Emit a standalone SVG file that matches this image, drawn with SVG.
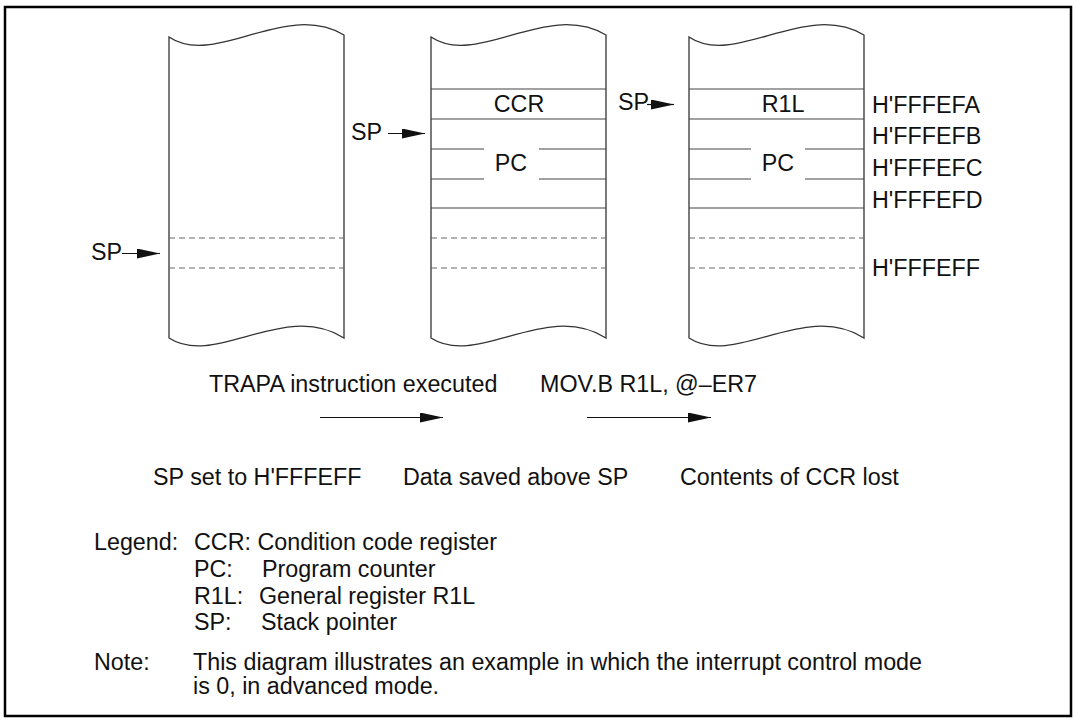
<svg xmlns="http://www.w3.org/2000/svg" width="1076" height="720" viewBox="0 0 1076 720">
<style>
.t{font-family:"Liberation Sans",Arial,Helvetica,sans-serif;font-size:23.3px;fill:#111}
.m{text-anchor:middle}
.col{fill:#fff;stroke:#333;stroke-width:1.3}
.row{stroke:#444;stroke-width:1.2;fill:none}
.dash{stroke:#666;stroke-width:1.2;stroke-dasharray:6 4;fill:none}
.arr{stroke:#111;stroke-width:1.2;fill:none;marker-end:url(#ah)}
</style>
<defs>
<marker id="ah" markerUnits="userSpaceOnUse" markerWidth="23" markerHeight="10" refX="23" refY="5" orient="auto">
<path d="M0,0 L23,5 L0,10 Z" fill="#111"/>
</marker>
<path id="colshape" d="M169,37 C215,68 285,0 344,35 L344,338 C285,300 215,368 169,338 Z"/>
</defs>
<rect width="1076" height="720" fill="#fff"/>
<rect x="5" y="7" width="1066" height="709" fill="none" stroke="#000" stroke-width="2.5"/>

<g id="stack1">
<use href="#colshape" class="col"/>
<line class="dash" x1="169" y1="238" x2="344" y2="238"/>
<line class="dash" x1="169" y1="268" x2="344" y2="268"/>
</g>

<g id="stack2">
<use href="#colshape" class="col" transform="translate(262,0)"/>
<line class="row" x1="431" y1="89" x2="606" y2="89"/>
<line class="row" x1="431" y1="119" x2="606" y2="119"/>
<line class="row" x1="431" y1="149" x2="484" y2="149"/>
<line class="row" x1="539" y1="149" x2="606" y2="149"/>
<line class="row" x1="431" y1="179" x2="484" y2="179"/>
<line class="row" x1="539" y1="179" x2="606" y2="179"/>
<line class="row" x1="431" y1="208" x2="606" y2="208"/>
<line class="dash" x1="431" y1="238" x2="606" y2="238"/>
<line class="dash" x1="431" y1="268" x2="606" y2="268"/>
<text class="t m" x="519" y="112">CCR</text>
<text class="t m" x="511" y="171">PC</text>
</g>

<g id="stack3">
<use href="#colshape" class="col" transform="translate(520,0)"/>
<line class="row" x1="689" y1="89" x2="864" y2="89"/>
<line class="row" x1="689" y1="119" x2="864" y2="119"/>
<line class="row" x1="689" y1="149" x2="751" y2="149"/>
<line class="row" x1="805" y1="149" x2="864" y2="149"/>
<line class="row" x1="689" y1="179" x2="751" y2="179"/>
<line class="row" x1="805" y1="179" x2="864" y2="179"/>
<line class="row" x1="689" y1="208" x2="864" y2="208"/>
<line class="dash" x1="689" y1="238" x2="864" y2="238"/>
<line class="dash" x1="689" y1="268" x2="864" y2="268"/>
<text class="t m" x="783" y="112">R1L</text>
<text class="t m" x="778" y="171">PC</text>
</g>

<g id="addresses">
<text class="t" x="872" y="113">H'FFFEFA</text>
<text class="t" x="872" y="144">H'FFFEFB</text>
<text class="t" x="872" y="176">H'FFFEFC</text>
<text class="t" x="872" y="208">H'FFFEFD</text>
<text class="t" x="872" y="276">H'FFFEFF</text>
</g>

<g id="sp-labels">
<text class="t" x="91" y="260">SP</text>
<text class="t" x="351" y="140">SP</text>
<text class="t" x="618" y="110">SP</text>
</g>

<g id="captions">
<text class="t" x="209" y="392">TRAPA instruction executed</text>
<text class="t" x="540" y="392">MOV.B R1L, @–ER7</text>
<text class="t" x="153" y="485">SP set to H'FFFEFF</text>
<text class="t" x="403" y="485">Data saved above SP</text>
<text class="t" x="680" y="485">Contents of CCR lost</text>
</g>

<g id="connectors">
<line class="arr" x1="122" y1="253.5" x2="160" y2="253.5"/>
<line class="arr" x1="388" y1="133.5" x2="425" y2="133.5"/>
<line class="arr" x1="647" y1="104.5" x2="674" y2="104.5"/>
<line class="arr" x1="320" y1="417.5" x2="443" y2="417.5"/>
<line class="arr" x1="587" y1="417.5" x2="711" y2="417.5"/>
</g>

<g id="legend">
<text class="t" x="94" y="550">Legend:</text>
<text class="t" x="194" y="550">CCR: Condition code register</text>
<text class="t" x="194" y="577">PC:</text>
<text class="t" x="262" y="577">Program counter</text>
<text class="t" x="194" y="604">R1L:</text>
<text class="t" x="259" y="604">General register R1L</text>
<text class="t" x="194" y="630">SP:</text>
<text class="t" x="261" y="630">Stack pointer</text>
<text class="t" x="94" y="670">Note:</text>
<text class="t" x="193" y="670">This diagram illustrates an example in which the interrupt control mode</text>
<text class="t" x="193" y="694">is 0, in advanced mode.</text>
</g>
</svg>
